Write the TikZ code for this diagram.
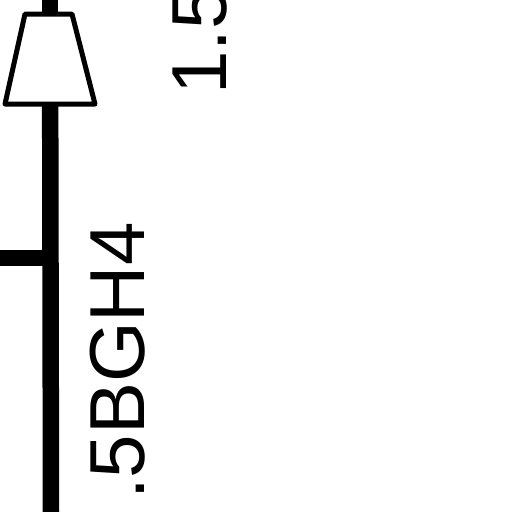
\documentclass[tikz,border=0pt]{standalone}
\usepackage{fontspec}
\setmainfont{Liberation Sans}
\usepackage{xcolor}
\usetikzlibrary{positioning,calc,shapes.geometric}
\definecolor{ink}{HTML}{000000}
\begin{document}
\begin{tikzpicture}[x=1pt,y=-1pt,every node/.style={text=ink},
  lbl/.style={font=\fontsize{78}{78}\selectfont,rotate=90,inner sep=0pt,anchor=base west},
  w/.style={ink,line width=16.5pt},
  cup/.style={draw=ink,line width=5pt,fill=white,line join=round}]
  \useasboundingbox (0,0) rectangle (512,512);
  \coordinate (top) at (50,0);
  \coordinate (tap) at (50,258);
  \coordinate (bot) at (51,512);
  \coordinate (stub) at (0,258);
  \coordinate (neck) at (50,14);
  \node[lbl] (rating) at (144,500) {.5BGH4};
  \node[lbl] (value) at (226,95) {1.5};
  \draw[w] (top)--(neck);
  \draw[w] (neck)--(bot);
  \draw[w] (stub)--(tap);
  \draw[cup] (25,14)--(72,14)--(95,104)--(5,104)--cycle;
\end{tikzpicture}
\end{document}
